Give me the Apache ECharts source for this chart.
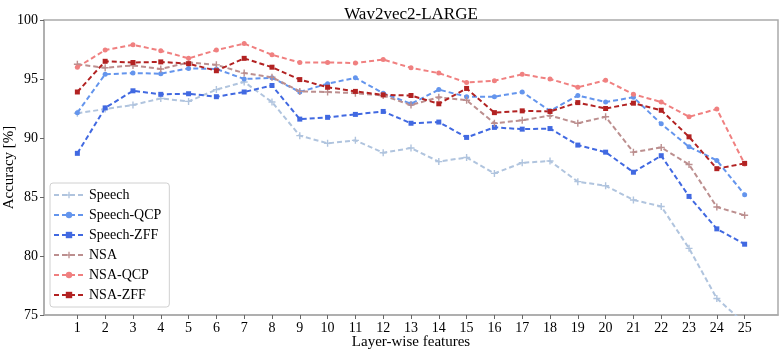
<!DOCTYPE html>
<html>
<head>
<meta charset="utf-8">
<script src="https://cdn.jsdelivr.net/npm/echarts@6/dist/echarts.min.js"></script>
<style>
  html, body { margin: 0; padding: 0; background: #fff; }
  #chart { width: 781px; height: 354px; }
</style>
</head>
<body>
<div id="chart"></div>
<script>
// layer indices (x axis)
const layers = [1,2,3,4,5,6,7,8,9,10,11,12,13,14,15,16,17,18,19,20,21,22,23,24,25];
const yTicks = [75, 80, 85, 90, 95, 100];

// accuracy per layer
const speech     = [92.1,92.45,92.8,93.35,93.1,94.1,94.75,93.05,90.2,89.55,89.8,88.75,89.15,88.0,88.35,87.0,87.9,88.05,86.3,85.95,84.75,84.2,80.65,76.4,74.3];
const speechQCP  = [92.15,95.4,95.5,95.45,95.9,95.85,95.0,95.1,93.9,94.6,95.1,93.8,92.9,94.1,93.5,93.5,93.9,92.3,93.6,93.05,93.45,91.2,89.25,88.1,85.2];
const speechZFF  = [88.7,92.55,94.0,93.7,93.75,93.5,93.9,94.45,91.6,91.75,92.0,92.25,91.25,91.35,90.05,90.9,90.75,90.8,89.4,88.8,87.1,88.5,85.05,82.3,81.0];
const nsa        = [96.25,95.95,96.15,95.85,96.4,96.2,95.5,95.15,93.95,93.9,93.8,93.6,92.8,93.45,93.2,91.25,91.5,91.9,91.25,91.8,88.8,89.2,87.75,84.15,83.45];
const nsaQCP     = [96.0,97.45,97.9,97.4,96.75,97.45,98.0,97.05,96.4,96.4,96.35,96.65,95.95,95.5,94.7,94.85,95.4,95.0,94.3,94.9,93.7,93.05,91.8,92.45,87.8];
const nsaZFF     = [93.9,96.5,96.4,96.45,96.3,95.7,96.75,96.0,94.95,94.3,93.95,93.65,93.6,92.9,94.2,92.15,92.3,92.25,93.0,92.5,92.95,92.35,90.1,87.4,87.85];

const seriesDefs = [
  { name: 'Speech',     data: speech,    color: '#b0c4de', symbol: 'plus' },
  { name: 'Speech-QCP', data: speechQCP, color: '#6495ed', symbol: 'circle' },
  { name: 'Speech-ZFF', data: speechZFF, color: '#4169e1', symbol: 'rect' },
  { name: 'NSA',        data: nsa,       color: '#bc8f8f', symbol: 'plus' },
  { name: 'NSA-QCP',    data: nsaQCP,    color: '#f08080', symbol: 'circle' },
  { name: 'NSA-ZFF',    data: nsaZFF,    color: '#b22222', symbol: 'rect' }
];

const plusPath = 'path://M4,0H6V4H10V6H6V10H4V6H0V4H4Z';
const font = 'Liberation Serif';

const chart = echarts.init(document.getElementById('chart'));

const option = {
  backgroundColor: '#fff',
  animation: false,
  title: {
    text: 'Wav2vec2-LARGE',
    left: 406,
    textAlign: 'center',
    top: 1,
    textStyle: { fontFamily: font, fontSize: 17, fontWeight: 'normal', color: '#000' }
  },
  grid: {
    left: 44, right: 3, top: 20, bottom: 39,
    containLabel: false,
    outerBoundsMode: 'none',
    show: true,
    borderColor: '#ababab',
    borderWidth: 1.5
  },
  legend: {
    orient: 'vertical',
    left: 50,
    top: 183,
    padding: [5, 8, 5, 3],
    itemWidth: 30,
    itemHeight: 8,
    itemGap: 6,
    backgroundColor: '#fff',
    borderColor: '#d0d0d0',
    borderWidth: 1,
    borderRadius: 3,
    textStyle: { fontFamily: font, fontSize: 14, color: '#000' },
    data: seriesDefs.map(s => s.name)
  },
  xAxis: {
    type: 'value',
    min: -0.2,
    max: 26.2,
    name: 'Layer-wise features',
    nameLocation: 'middle',
    nameGap: 20,
    nameMoveOverlap: false,
    nameTextStyle: { fontFamily: font, fontSize: 15, color: '#000' },
    splitLine: { show: false },
    axisLine: { show: true, onZero: false, lineStyle: { color: '#ababab', width: 1.5 } },
    axisTick: { show: true, customValues: layers, length: 4, lineStyle: { color: '#666' } },
    axisLabel: { customValues: layers, fontFamily: font, fontSize: 14, color: '#000', margin: 6 }
  },
  yAxis: {
    type: 'value',
    min: 75,
    max: 100,
    interval: 5,
    name: 'Accuracy [%]',
    nameLocation: 'middle',
    nameGap: 27,
    nameMoveOverlap: false,
    nameTextStyle: { fontFamily: font, fontSize: 15, color: '#000' },
    splitLine: { show: false },
    axisLine: { show: true, onZero: false, lineStyle: { color: '#ababab', width: 1.5 } },
    axisTick: { show: true, length: 4, lineStyle: { color: '#666' } },
    axisLabel: { fontFamily: font, fontSize: 14, color: '#000', margin: 6 }
  },
  series: seriesDefs.map(s => ({
    name: s.name,
    type: 'line',
    data: s.data.map((v, i) => [layers[i], v]),
    color: s.color,
    symbol: s.symbol === 'plus' ? plusPath : s.symbol,
    symbolSize: s.symbol === 'plus' ? 7 : 5,
    showAllSymbol: true,
    clip: true,
    lineStyle: { type: [5, 3], width: 2, color: s.color },
    itemStyle: { color: s.color }
  }))
};

chart.setOption(option);
</script>
</body>
</html>
